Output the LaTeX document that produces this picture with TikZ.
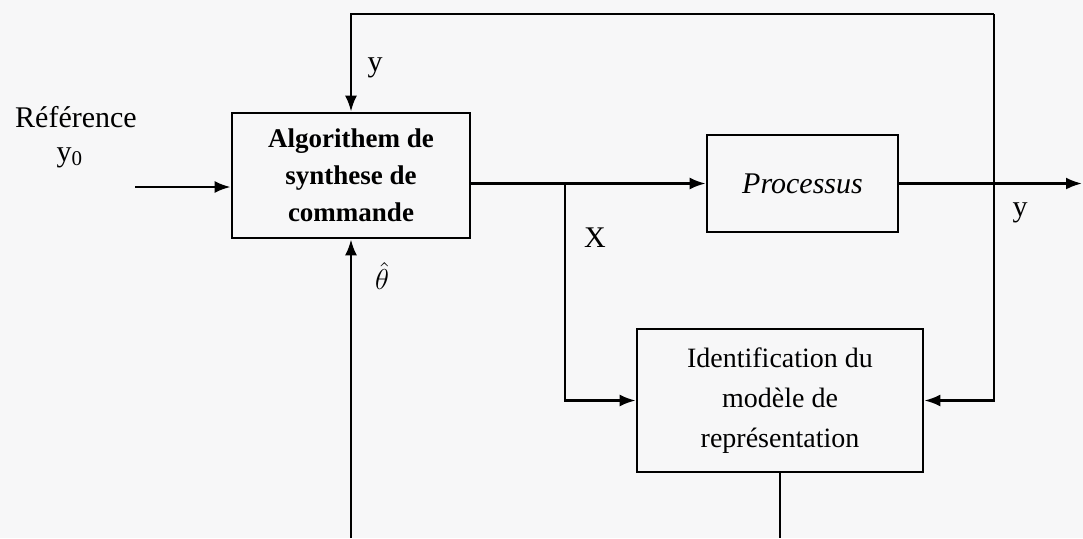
\documentclass[tikz,border=0pt]{standalone}
\usepackage{fontspec}
\setmainfont{Liberation Serif}
\usetikzlibrary{arrows.meta}

\begin{document}
\begin{tikzpicture}[x=0.5pt,y=-0.5pt,font=\fontsize{15}{19}\selectfont,
  bx/.style={rectangle,draw,line width=1.4pt,align=center,inner sep=2pt},
  ar/.style={-{Latex[length=8pt,width=6pt]},line width=1.2pt},
  ln/.style={line width=1.2pt}]
  \fill[blue!2!black!3] (0,0) rectangle (1083,538);
  \useasboundingbox (0,0) rectangle (1083,538);
  % blocs
  \node[bx,minimum width=119pt,minimum height=62.5pt,font=\fontsize{13.5}{18.5}\selectfont\bfseries] (alg) at (351,175.5) {Algorithem de\\ synthese de\\ commande};
  \node[bx,minimum width=95.5pt,minimum height=48.5pt,font=\fontsize{15}{19}\selectfont\itshape] (proc) at (802.5,183.5) {Processus};
  \node[bx,minimum width=143pt,minimum height=71.5pt,font=\fontsize{14}{20}\selectfont] (idf) at (780,400.5) {Identification du\\ modèle de\\ représentation};
  % points libres
  \coordinate (in)  at (135,187);
  \coordinate (out) at (1082,183.5);
  \coordinate (br)  at (565,183.5);
  \coordinate (ft)  at (994,14);
  \coordinate (bot) at (0,538);
  % liaisons
  \draw[ar] (in) -- (in -| alg.west);
  \draw[ar] (alg.east |- proc.west) -- (proc.west);
  \draw[ar] (proc.east) -- (out);
  \draw[ar] (br) |- (idf.west);
  \draw[ar] (ft) -| (alg.north);
  \draw[ar] (ft) |- (idf.east);
  \draw[ar] (alg.south |- bot) -- (alg.south);
  \draw[ln] (idf.south) -- (idf.south |- bot);
  % textes
  \node (ref) at (76,117) {Référence};
  \node (yz)  at (70,158) {y\textsubscript{0}};
  \node (ly)  at (375,68) {y};
  \node (lyo) at (1020,213) {y};
  \node (lx)  at (595,238) {X};
  \node[inner sep=1pt] (lth) at (382,276) {$\hat{\theta}$};
\end{tikzpicture}
\end{document}
